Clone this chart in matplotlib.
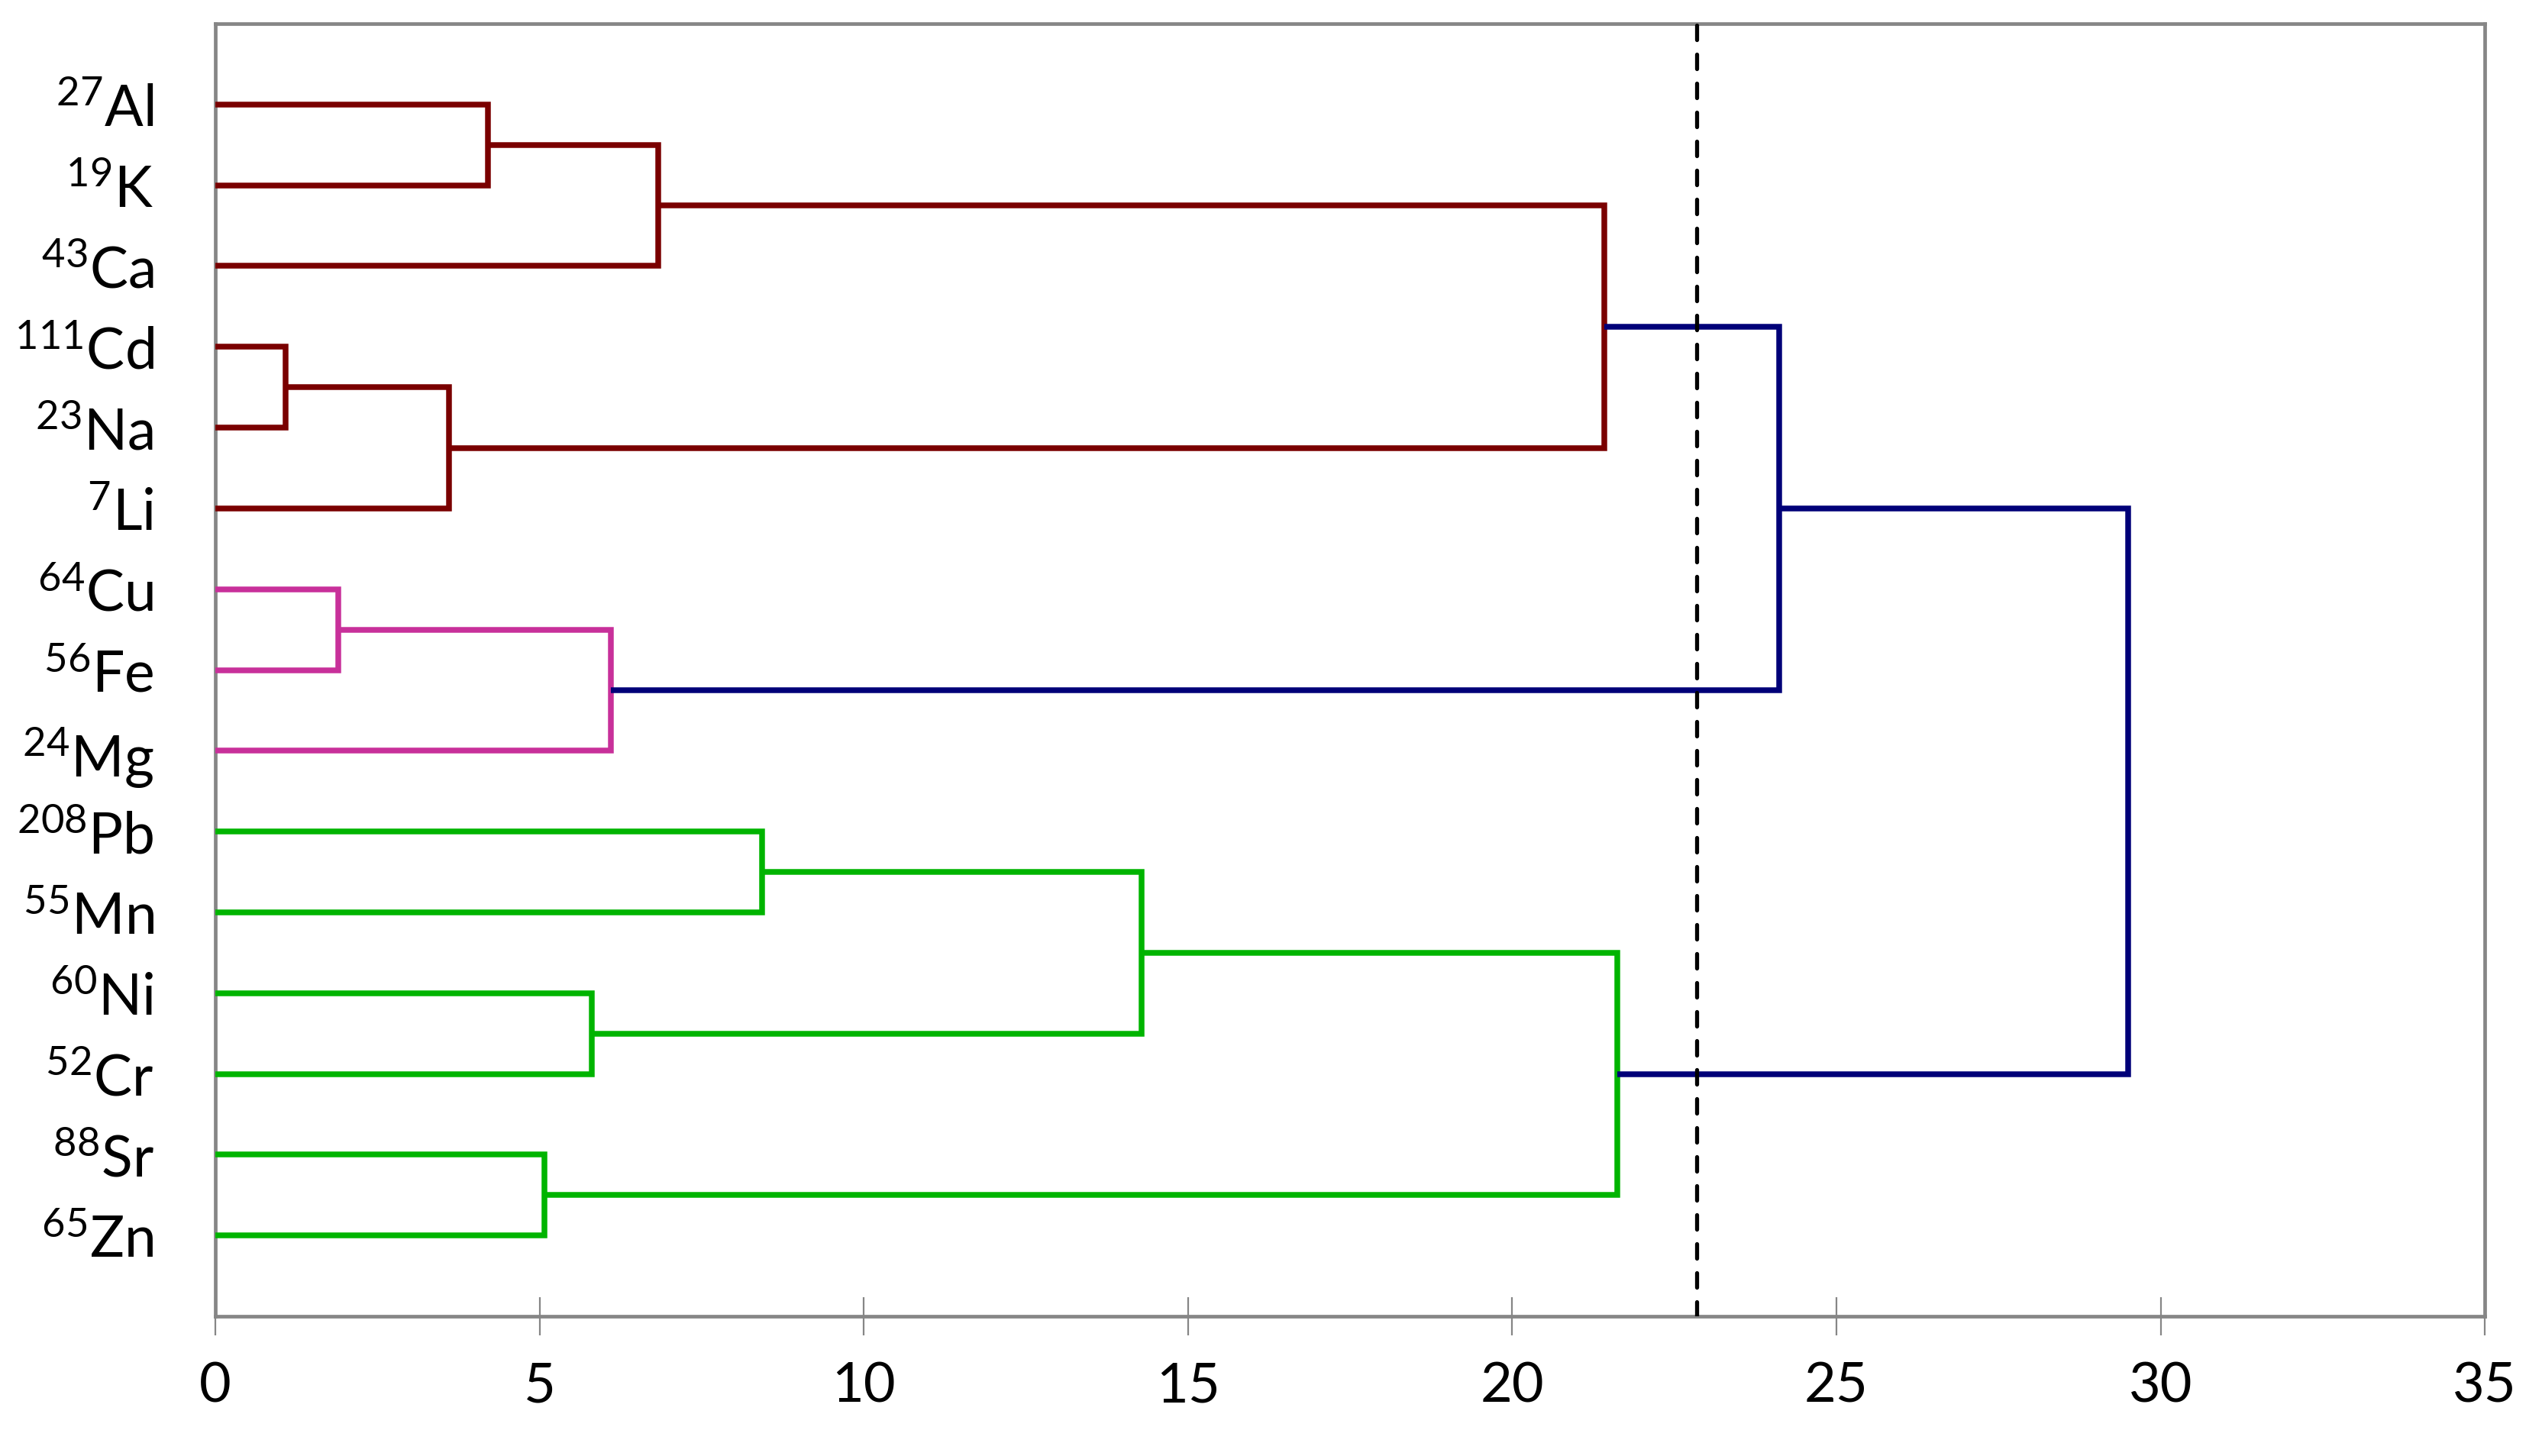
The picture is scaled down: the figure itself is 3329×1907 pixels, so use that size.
import matplotlib
matplotlib.use("Agg")
import matplotlib.pyplot as plt

# ---- data ----
leaves = ["Al", "K", "Ca", "Cd", "Na", "Li", "Cu", "Fe", "Mg",
          "Pb", "Mn", "Ni", "Cr", "Sr", "Zn"]
isotopes = ["27", "19", "43", "111", "23", "7", "64", "56", "24",
            "208", "55", "60", "52", "88", "65"]
# merges: (left child, right child, height, cluster)
merge_left = ["Al", "m0", "Cd", "m2", "m1", "Cu", "m5", "m4",
              "Pb", "Ni", "m8", "Sr", "m10", "m7"]
merge_right = ["K", "Ca", "Na", "Li", "m3", "Fe", "Mg", "m6",
               "Mn", "Cr", "m9", "Zn", "m11", "m12"]
merge_height = [4.2, 6.83, 1.08, 3.60, 21.42, 1.90, 6.10, 24.12,
                8.43, 5.80, 14.29, 5.08, 21.62, 29.50]
merge_cluster = ["red", "red", "red", "red", "red", "pink", "pink", "top",
                 "green", "green", "green", "green", "green", "top"]
cut_height = 22.84

colors = {"red": "#7a0000", "pink": "#c8309a", "green": "#00b400", "top": "#000078"}

plt.rcParams["font.family"] = ["Lato", "DejaVu Sans"]
plt.rcParams["mathtext.fontset"] = "custom"
plt.rcParams["mathtext.rm"] = "Lato"
plt.rcParams["mathtext.it"] = "Lato"

fig = plt.figure(figsize=(16.65, 9.54), dpi=200)
ax = fig.add_axes([0.0847, 0.0959, 0.8925, 0.8873])

pos = {name: (0.0, i + 1) for i, name in enumerate(leaves)}
for i, (l, r, h, c) in enumerate(zip(merge_left, merge_right, merge_height, merge_cluster)):
    xl, yl = pos[l]
    xr, yr = pos[r]
    ax.plot([xl, h, h, xr], [yl, yl, yr, yr], color=colors[c], lw=2.7,
            solid_joinstyle="miter", solid_capstyle="butt", zorder=3)
    pos["m%d" % i] = (h, (yl + yr) / 2)

ax.axvline(cut_height, color="black", lw=1.9, linestyle=(0, (3.6, 3.6)),
           dash_capstyle="round", zorder=4)

ax.set_xlim(0, 35)
ax.set_ylim(16, 0)
ax.set_xticks(range(0, 36, 5))
ax.set_yticks(range(1, len(leaves) + 1))
ax.set_yticklabels(["$^{%s}$%s" % (iso, el) for iso, el in zip(isotopes, leaves)])

for sp in ax.spines.values():
    sp.set_color("#868686")
    sp.set_linewidth(1.7)

ax.tick_params(axis="x", direction="inout", length=18, width=0.8, color="#868686",
               labelsize=26, pad=12)
ax.tick_params(axis="y", length=0, labelsize=27, pad=29)

fig.savefig("out.png", dpi=200)
